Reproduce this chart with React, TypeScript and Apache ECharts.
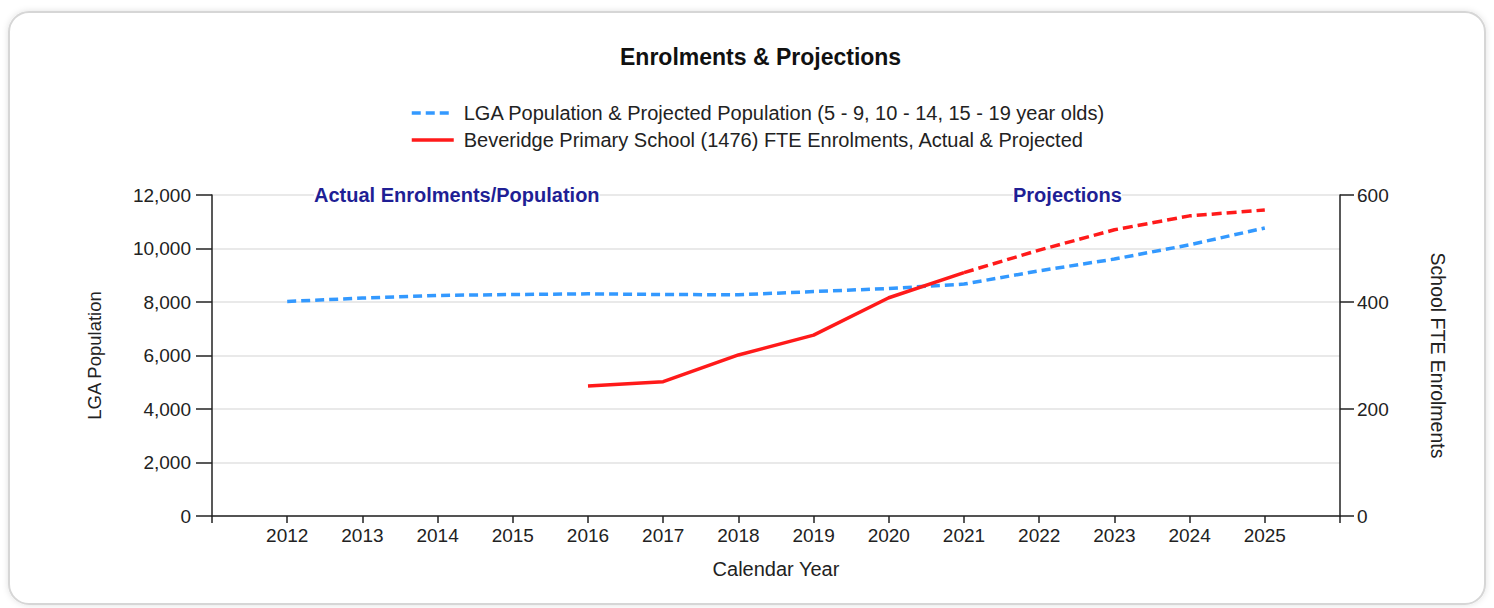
import React, { useEffect, useRef } from "react";
import * as echarts from "echarts";

const popYears = [2012, 2013, 2014, 2015, 2016, 2017, 2018, 2019, 2020, 2021, 2022, 2023, 2024, 2025];
const population = [8020, 8145, 8245, 8280, 8305, 8280, 8270, 8390, 8505, 8670, 9165, 9605, 10140, 10765];

const enrolYears = [2016, 2017, 2018, 2019, 2020, 2021, 2022, 2023, 2024, 2025];
const enrolments = [243, 251, 301, 338, 408, 455, 497, 535, 561, 572];
const lastActualYear = 2021;

const popName = "LGA Population & Projected Population (5 - 9, 10 - 14, 15 - 19 year olds)";
const enrolName = "Beveridge Primary School (1476) FTE Enrolments, Actual & Projected";

const FONT = "Arial, 'Liberation Sans', sans-serif";

export default function App() {
  const ref = useRef<HTMLDivElement>(null);
  useEffect(() => {
    document.body.style.margin = "0";
    const chart = echarts.init(ref.current!, null, { renderer: "svg" });
    const popData = popYears.map((y, i) => [y, population[i]]);
    const actual = enrolYears
      .map((y, i) => [y, enrolments[i]])
      .filter((d) => d[0] <= lastActualYear);
    const projected = enrolYears
      .map((y, i) => [y, enrolments[i]])
      .filter((d) => d[0] >= lastActualYear);

    chart.setOption({
      animation: false,
      textStyle: { fontFamily: FONT },
      title: {
        text: "Enrolments & Projections",
        left: 615,
        top: 40,
        textStyle: { fontSize: 23, fontWeight: "bold", color: "#111", fontFamily: FONT },
      },
      legend: {
        orient: "vertical",
        left: 405,
        top: 98,
        itemWidth: 42,
        itemHeight: 16,
        itemGap: 7,
        data: [popName, enrolName],
        itemStyle: { opacity: 0 },
        lineStyle: { width: 3.5 },
        textStyle: { fontSize: 20, color: "#222", fontFamily: FONT, padding: [0, 0, 0, 5] },
      },
      graphic: [
        {
          type: "rect",
          z: -10,
          shape: { x: 9, y: 12, width: 1476, height: 592, r: 20 },
          style: {
            fill: "#fff",
            stroke: "#d6d6d6",
            lineWidth: 2,
            shadowBlur: 6,
            shadowColor: "rgba(0,0,0,0.12)",
          },
        },
        {
          type: "text",
          left: 314,
          top: 185,
          z: 10,
          style: {
            text: "Actual Enrolments/Population",
            fontSize: 20,
            fontWeight: "bold",
            fill: "#1f1f95",
            fontFamily: FONT,
            backgroundColor: "#fff",
          },
        },
        {
          type: "text",
          left: 1013,
          top: 185,
          z: 10,
          style: {
            text: "Projections",
            fontSize: 20,
            fontWeight: "bold",
            fill: "#1f1f95",
            fontFamily: FONT,
            backgroundColor: "#fff",
          },
        },
      ],
      grid: { left: 212, right: 154, top: 195, bottom: 92 },
      xAxis: {
        type: "value",
        min: 2011,
        max: 2026,
        interval: 1,
        name: "Calendar Year",
        nameLocation: "middle",
        nameGap: 43,
        nameTextStyle: { fontSize: 20, color: "#222" },
        axisLine: { lineStyle: { color: "#222", width: 1.5 } },
        axisTick: { length: 7, lineStyle: { color: "#222", width: 1.5 } },
        axisLabel: {
          fontSize: 19,
          color: "#222",
          margin: 10,
          formatter: (v: number) => (v === 2011 || v === 2026 ? "" : String(v)),
        },
        splitLine: { show: false },
      },
      yAxis: [
        {
          type: "value",
          min: 0,
          max: 12000,
          interval: 2000,
          name: "LGA Population",
          nameLocation: "middle",
          nameGap: 108,
          nameTextStyle: { fontSize: 18.5, color: "#222" },
          axisLine: { show: true, lineStyle: { color: "#222", width: 1.5 } },
          axisTick: { show: true, length: 16, lineStyle: { color: "#222", width: 1.5 } },
          axisLabel: {
            fontSize: 19,
            color: "#222",
            margin: 21,
            formatter: (v: number) => v.toLocaleString("en-US"),
          },
          splitLine: { show: true, lineStyle: { color: "#e2e2e2", width: 1.5 } },
        },
        {
          type: "value",
          min: 0,
          max: 600,
          interval: 200,
          position: "right",
          name: "School FTE Enrolments",
          nameLocation: "middle",
          nameRotate: -90,
          nameGap: 88,
          nameTextStyle: { fontSize: 19.5, color: "#222" },
          axisLine: { show: true, lineStyle: { color: "#222", width: 1.5 } },
          axisTick: { show: true, length: 14, lineStyle: { color: "#222", width: 1.5 } },
          axisLabel: { fontSize: 19, color: "#222", margin: 17 },
          splitLine: { show: false },
        },
      ],
      series: [
        {
          name: popName,
          type: "line",
          yAxisIndex: 0,
          data: popData,
          symbol: "none",
          lineStyle: { color: "#3399ff", width: 3.5, type: [9, 5] },
          itemStyle: { color: "#3399ff" },
          z: 3,
        },
        {
          name: enrolName,
          type: "line",
          yAxisIndex: 1,
          data: actual,
          symbol: "none",
          lineStyle: { color: "#ff1a1a", width: 3.5, type: "solid" },
          itemStyle: { color: "#ff1a1a" },
          z: 4,
        },
        {
          name: enrolName + " (projected)",
          type: "line",
          yAxisIndex: 1,
          data: projected,
          symbol: "none",
          lineStyle: { color: "#ff1a1a", width: 3.5, type: [10, 5] },
          itemStyle: { color: "#ff1a1a" },
          z: 4,
        },
      ],
    });
    return () => chart.dispose();
  }, []);
  return <div ref={ref} style={{ width: 1494, height: 608 }} />;
}
